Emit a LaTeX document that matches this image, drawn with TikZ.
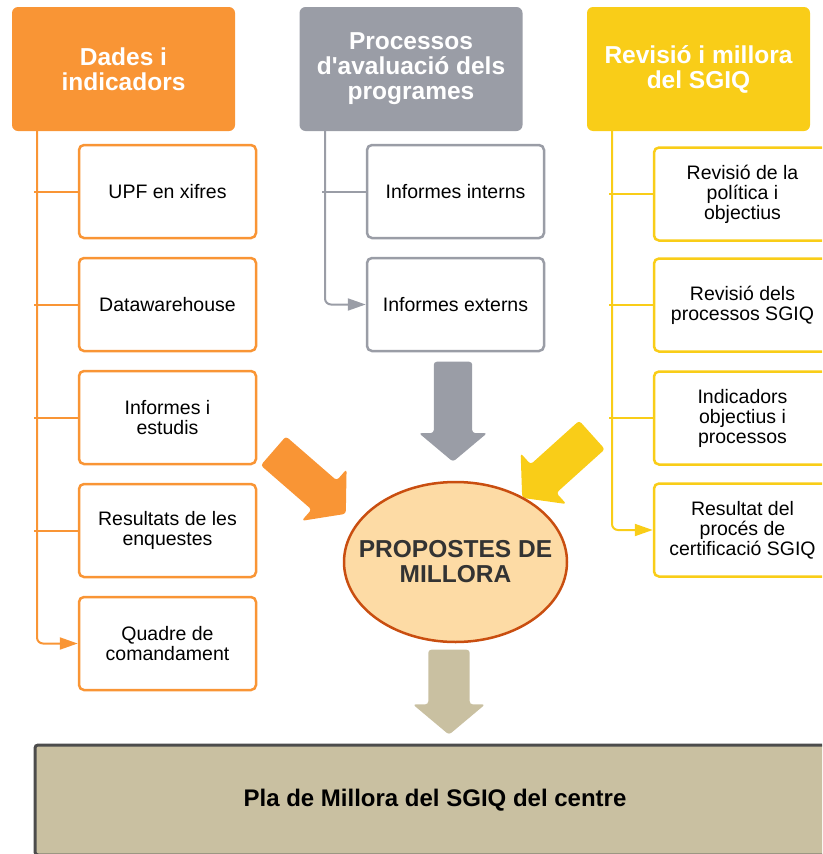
\documentclass[tikz,border=0pt]{standalone}
\usepackage{fontspec}
\setmainfont{Liberation Sans}
\usetikzlibrary{positioning,shapes.geometric,shapes.arrows,arrows.meta}

\definecolor{dadesOr}{HTML}{F99535}
\definecolor{procGr}{HTML}{9A9DA6}
\definecolor{revYl}{HTML}{F9CD18}
\definecolor{plaTan}{HTML}{C9C0A1}
\definecolor{propFill}{HTML}{FDDBA5}
\definecolor{propLine}{HTML}{C94E10}

\tikzset{
  head/.style={rectangle, rounded corners=6pt, minimum width=223pt, minimum height=124pt,
    align=center, text=white, font=\fontsize{24.5}{25}\selectfont\bfseries},
  item/.style={rectangle, rounded corners=5pt, line width=2.5pt, fill=white,
    minimum width=177pt, minimum height=93pt, align=center, font=\fontsize{19.5}{20}\selectfont},
  trunk/.style={line width=2pt, rounded corners=6pt},
  arrowend/.style={-{Triangle[length=18pt,width=12pt]}},
  bigarrow/.style={single arrow, rounded corners=3pt, inner xsep=0pt, inner ysep=19pt, anchor=tip,
    minimum height=#1, single arrow head extend=15pt, single arrow tip angle=100},
}

\begin{document}
\begin{tikzpicture}[x=1pt,y=1pt,node distance=113pt,on grid]
   \useasboundingbox (0,0) rectangle (822,-854);
   \clip (0,0) rectangle (822,-854);

   % capçaleres
   \node[head, fill=dadesOr] (dades) at (123.5,-69) {Dades i\\indicadors};
   \node[head, fill=procGr] (proc) at (411,-69) {Processos\\d\textquotesingle avaluació dels\\programes};
   \node[head, fill=revYl] (rev) at (698.5,-69) {Revisió i millora\\del SGIQ};

   % Dades i indicadors
   \node[item, draw=dadesOr] (upf) at (167.5,-191.5) {UPF en xifres};
   \node[item, draw=dadesOr] (dwh) [below=of upf] {Datawarehouse};
   \node[item, draw=dadesOr] (inf) [below=of dwh] {Informes i\\estudis};
   \node[item, draw=dadesOr] (enq) [below=of inf] {Resultats de les\\enquestes};
   \node[item, draw=dadesOr] (qua) [below=of enq] {Quadre de\\comandament};

   % Processos d'avaluació dels programes
   \node[item, draw=procGr] (intr) at (455.5,-191.5) {Informes interns};
   \node[item, draw=procGr] (extr) [below=of intr] {Informes externs};

   % Revisió i millora del SGIQ
   \node[item, draw=revYl] (pol) at (742.5,-194) {Revisió de la\\política i\\objectius};
   \node[item, draw=revYl] (rpr) [below=111pt of pol] {Revisió dels\\processos SGIQ};
   \node[item, draw=revYl] (ind) [below=of rpr] {Indicadors\\objectius i\\processos};
   \node[item, draw=revYl] (cert) [below=112pt of ind] {Resultat del\\procés de\\certificació SGIQ};

   % troncs
   \coordinate (dTop) at (37,-131);
   \coordinate (pTop) at (325,-131);
   \coordinate (rTop) at (612,-131);

   \draw[trunk, dadesOr, arrowend] (dTop) |- (qua.west);
   \foreach \n in {upf,dwh,inf,enq}
      \draw[line width=2pt, dadesOr] (\n.west) -- ([xshift=-3pt]\n.west -| dTop);

   \draw[trunk, procGr, arrowend] (pTop) |- (extr.west);
   \draw[line width=2pt, procGr] (intr.west) -- ([xshift=-3pt]intr.west -| pTop);

   \draw[trunk, revYl, arrowend] (rTop) |- (cert.west);
   \foreach \n in {pol,rpr,ind}
      \draw[line width=2pt, revYl] (\n.west) -- ([xshift=-3pt]\n.west -| rTop);

   % fletxes grans
   \node[bigarrow=100pt, fill=procGr, rotate=-90] (aProc) at (453,-462) {};
   \node[bigarrow=96pt, fill=dadesOr, rotate=-41] (aDades) at (346,-514) {};
   \node[bigarrow=94pt, fill=revYl, rotate=-138] (aRev) at (522,-498) {};

   \node[ellipse, fill=propFill, draw=propLine, line width=2.5pt, inner xsep=-20pt, inner ysep=0pt,
      minimum width=223pt, minimum height=160pt, align=center, text=black!80,
      font=\fontsize{24.5}{25}\selectfont\bfseries] (prop) at (455.5,-562) {PROPOSTES DE\\MILLORA};

   \node[bigarrow=85pt, fill=plaTan, rotate=-90, inner ysep=20.5pt,
      single arrow head extend=15.5pt] (aPla) at (449,-735) {};

   \node[rectangle, rounded corners=3pt, draw=black!70, line width=3pt, fill=plaTan,
      minimum width=800pt, minimum height=110pt,
      font=\fontsize{24}{25}\selectfont\bfseries] (pla) at (435,-800) {Pla de Millora del SGIQ del centre};

\end{tikzpicture}
\end{document}
